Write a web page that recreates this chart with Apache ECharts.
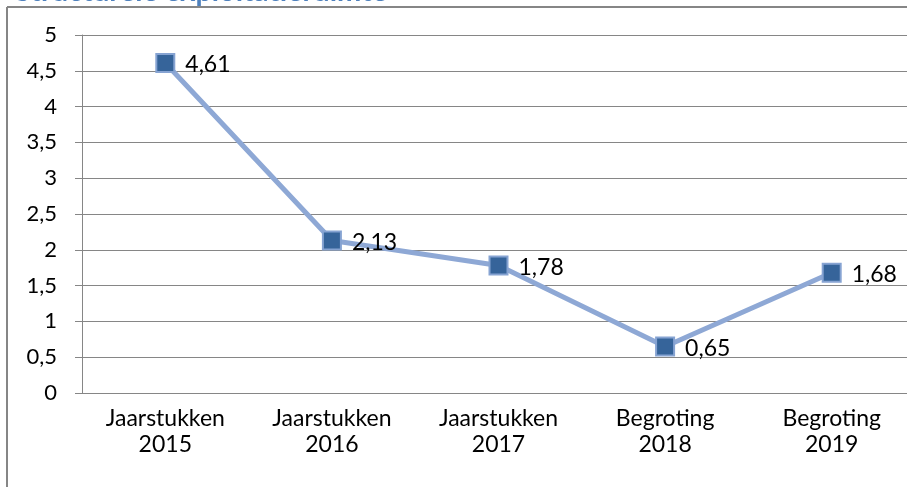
<!DOCTYPE html>
<html>
<head>
<meta charset="utf-8">
<title>Structurele exploitatieruimte</title>
<script src="https://cdn.jsdelivr.net/npm/echarts@6/dist/echarts.min.js"></script>
<style>
  html, body { margin: 0; padding: 0; background: #fff; }
  #container { width: 907px; height: 487px; }
</style>
</head>
<body>
<div id="container"></div>
<script>
// data
var categories = ['Jaarstukken\n2015', 'Jaarstukken\n2016', 'Jaarstukken\n2017', 'Begroting\n2018', 'Begroting\n2019'];
var values = [4.61, 2.13, 1.78, 0.65, 1.68];
var yTicks = [0, 0.5, 1, 1.5, 2, 2.5, 3, 3.5, 4, 4.5, 5];

var fontName = 'Lato, "Open Sans", sans-serif';
var axisGray = '#868686';

function comma(v) {
    return String(v).replace('.', ',');
}

var chart = echarts.init(document.getElementById('container'));

// frame of the chart area, only its left and top edges are in view
var frameStyle = { stroke: axisGray, lineWidth: 2 };

var option = {
    backgroundColor: '#fff',
    animation: false,
    title: {
        text: 'Structurele exploitatieruimte',
        left: 10,
        top: -28,
        textStyle: {
            color: '#4F81BD',
            fontFamily: fontName,
            fontSize: 29,
            fontWeight: 'bold'
        }
    },
    graphic: [{
        type: 'line',
        shape: { x1: 7, y1: 7, x2: 7, y2: 487 },
        style: frameStyle,
        silent: true
    }, {
        type: 'line',
        shape: { x1: 7, y1: 7, x2: 907, y2: 7 },
        style: frameStyle,
        silent: true
    }],
    grid: {
        left: 82,
        width: 833,
        top: 35,
        bottom: 94,
        outerBoundsMode: 'none'
    },
    xAxis: {
        type: 'category',
        data: categories,
        boundaryGap: true,
        axisLine: { lineStyle: { color: axisGray, width: 1 } },
        axisTick: { length: 7, lineStyle: { color: axisGray } },
        axisLabel: {
            margin: 13,
            color: '#000',
            fontFamily: fontName,
            fontSize: 23,
            lineHeight: 26
        }
    },
    yAxis: {
        type: 'value',
        min: yTicks[0],
        max: yTicks[yTicks.length - 1],
        interval: 0.5,
        axisLine: { show: true, lineStyle: { color: axisGray, width: 1 } },
        axisTick: { show: true, length: 7, lineStyle: { color: axisGray } },
        splitLine: { lineStyle: { color: axisGray, width: 1 } },
        axisLabel: {
            margin: 25,
            color: '#000',
            fontFamily: fontName,
            fontSize: 22,
            formatter: function (v) { return comma(v); }
        }
    },
    series: [{
        type: 'line',
        data: values,
        symbol: 'rect',
        symbolSize: 18,
        lineStyle: { color: '#8EA8D5', width: 5 },
        itemStyle: { color: '#36649A', borderColor: '#86A3D2', borderWidth: 2 },
        label: {
            show: true,
            position: 'right',
            distance: 10,
            offset: [0, 2],
            color: '#000',
            fontFamily: fontName,
            fontSize: 23,
            formatter: function (p) { return comma(p.value); }
        }
    }]
};

chart.setOption(option);
</script>
</body>
</html>
